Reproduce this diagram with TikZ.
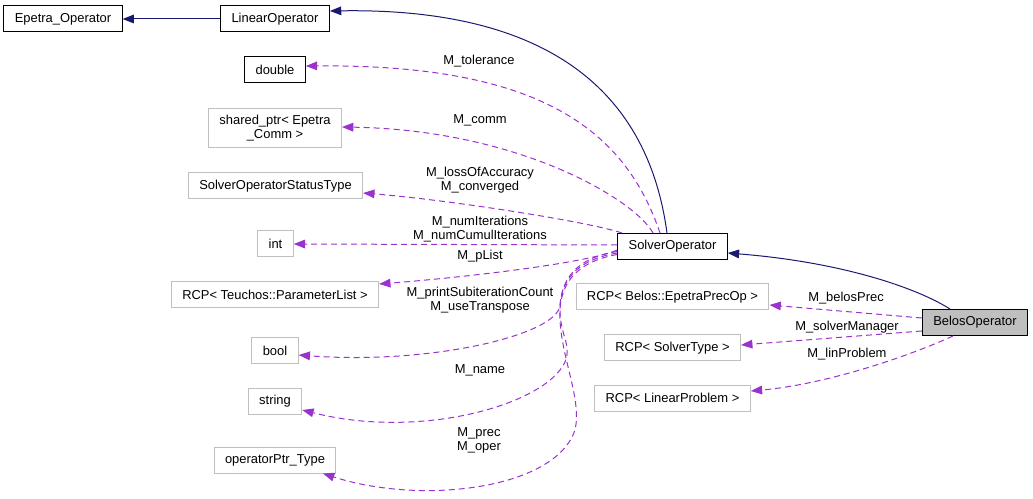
\documentclass[tikz,border=0pt]{standalone}
\usepackage{fontspec}
\setmainfont{Liberation Sans}
\usetikzlibrary{arrows.meta}

\definecolor{classnavy}{HTML}{191970}
\definecolor{memberpurple}{HTML}{9A32CD}
\definecolor{boxgray}{HTML}{BFBFBF}

\begin{document}
\begin{tikzpicture}[x=0.75pt, y=-0.75pt,
    every node/.style={font=\fontsize{9.7}{10.5}\selectfont},
    docbox/.style={draw=black, line width=0.75pt, inner xsep=8.2pt, inner ysep=1pt, minimum height=19.5pt, align=center},
    extbox/.style={docbox, draw=boxgray},
    inherit/.style={draw=classnavy, line width=0.75pt, -{Triangle[length=8.5pt,width=6.5pt]}},
    member/.style={draw=memberpurple, line width=0.75pt, dash pattern=on 4.5pt off 3pt, -{Triangle[length=8.5pt,width=6.5pt]}},
    memberlabel/.style={align=center, inner sep=0pt}]

    % picture size
    \useasboundingbox (0,0) rectangle (1033,499);

    % class boxes
    \node[docbox] (epetraop) at (63,19) {Epetra\_Operator};
    \node[docbox] (linop) at (275,19) {LinearOperator};
    \node[docbox] (solverop) at (672.5,246.5) {SolverOperator};
    \node[docbox, fill=boxgray] (belosop) at (975,322.5) {BelosOperator};

    % member types
    \node[docbox] (dbl) at (275,69.5) {double};
    \node[extbox, inner ysep=5pt] (sharedptr) at (275,128) {shared\_ptr< Epetra\\\_Comm >};
    \node[extbox] (statustype) at (275.5,186) {SolverOperatorStatusType};
    \node[extbox] (intn) at (275.5,244) {int};
    \node[extbox] (plist) at (275,295) {RCP< Teuchos::ParameterList >};
    \node[extbox] (booln) at (275,350.5) {bool};
    \node[extbox] (stringn) at (275,401.5) {string};
    \node[extbox] (opptr) at (275,460) {operatorPtr\_Type};
    \node[extbox] (belosprec) at (672.5,297) {RCP< Belos::EpetraPrecOp >};
    \node[extbox] (solvertype) at (672.5,348) {RCP< SolverType >};
    \node[extbox] (linproblem) at (672.5,398) {RCP< LinearProblem >};

    % inheritance
    \draw[inherit] (linop.west) -- (epetraop.east);
    \draw[inherit] ([shift={(-5.5,0)}]solverop.north) .. controls (645,70) and (520,8) .. ([shift={(0,-8)}]linop.east);
    \draw[inherit] ([shift={(-25,0)}]belosop.north) .. controls (915,287) and (840,262) .. ([shift={(0,6.5)}]solverop.east);

    % members of SolverOperator
    \draw[member] ([shift={(-12.5,0)}]solverop.north) .. controls (625,130) and (540,64) .. ([shift={(0,-3.5)}]dbl.east);
    \draw[member] ([shift={(-19.5,0)}]solverop.north) .. controls (635,200) and (520,130) .. ([shift={(0,-1)}]sharedptr.east);
    \draw[member] ([shift={(-50.5,0)}]solverop.north) .. controls (590,222) and (450,200) .. ([shift={(0,7)}]statustype.east);
    \draw[member] ([shift={(0,-1.5)}]solverop.west) -- (intn.east);
    \draw[member] ([shift={(0,3.5)}]solverop.west) .. controls (590,262) and (480,276) .. ([shift={(0,-11)}]plist.east);
    \draw[member] ([shift={(0,5)}]solverop.west) .. controls (575,258) and (562,280) .. (560,305)
        .. controls (558,335) and (430,365) .. ([shift={(0,4.5)}]booln.east);
    \draw[member] ([shift={(0,6.5)}]solverop.west) .. controls (575,260) and (560,282) .. (560,310)
        .. controls (560,335) and (572,345) .. (565,362)
        .. controls (545,405) and (420,440) .. ([shift={(0,8.5)}]stringn.east);
    \draw[member] ([shift={(0,8)}]solverop.west) .. controls (575,262) and (558,285) .. (560,320)
        .. controls (562,360) and (582,400) .. (575,430)
        .. controls (555,490) and (420,505) .. ([shift={(48,0)}]opptr.south);

    % members of BelosOperator
    \draw[member] ([shift={(0,-4.5)}]belosop.west) -- ([shift={(0,8)}]belosprec.east);
    \draw[member] ([shift={(0,8.5)}]belosop.west) -- ([shift={(0,-3)}]solvertype.east);
    \draw[member] ([shift={(-22,0)}]belosop.south) .. controls (900,360) and (820,385) .. ([shift={(0,-7)}]linproblem.east);

    % member names
    \node[memberlabel] (ltol) at (479,60.7) {M\_tolerance};
    \node[memberlabel] (lcomm) at (480,120.5) {M\_comm};
    \node[memberlabel] (lloss) at (480,180) {M\_lossOfAccuracy\\M\_converged};
    \node[memberlabel] (literations) at (480,229.5) {M\_numIterations\\M\_numCumulIterations};
    \node[memberlabel] (lplist) at (480,256.5) {M\_pList};
    \node[memberlabel] (lprint) at (480,300) {M\_printSubiterationCount\\M\_useTranspose};
    \node[memberlabel] (lname) at (480,370.5) {M\_name};
    \node[memberlabel] (lprec) at (479,440) {M\_prec\\M\_oper};
    \node[memberlabel] (lbelosprec) at (846,298.5) {M\_belosPrec};
    \node[memberlabel] (lsolvermgr) at (847,327) {M\_solverManager};
    \node[memberlabel] (llinproblem) at (847,354.5) {M\_linProblem};

\end{tikzpicture}
\end{document}
